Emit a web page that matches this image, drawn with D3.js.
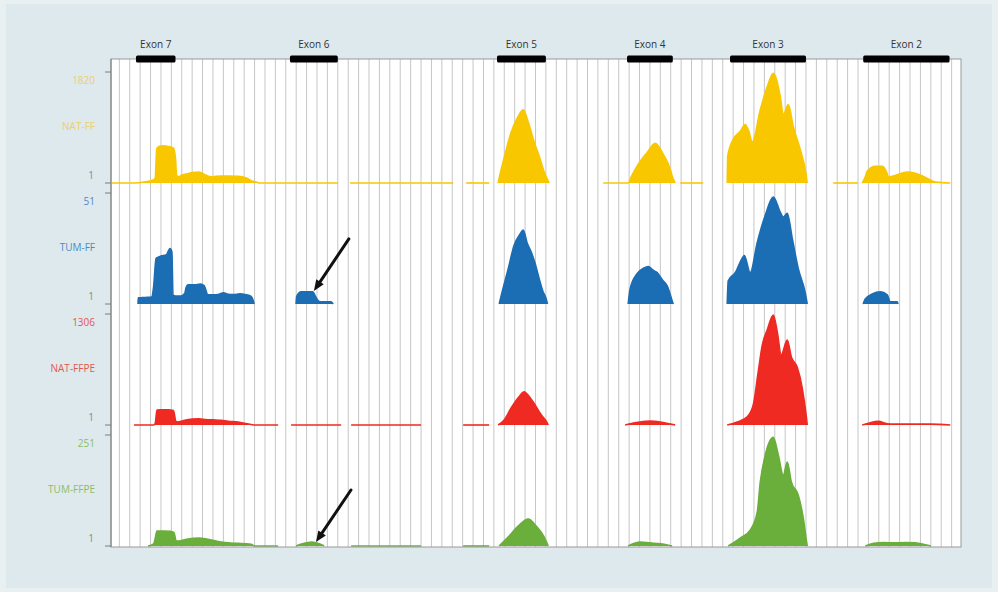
<!DOCTYPE html>
<html><head><meta charset="utf-8">
<script src="https://cdn.jsdelivr.net/npm/d3@7"></script>
<style>html,body{margin:0;padding:0;background:#e8f0f2;} svg{display:block;font-family:"Open Sans",sans-serif;}</style>
</head><body><svg id="c" width="998" height="592"></svg>
<script>
// ---------- data ----------
const exonNames  = ["Exon 7","Exon 6","Exon 5","Exon 4","Exon 3","Exon 2"];
const exonStarts = [160, 1640, 3630, 4880, 5870, 7150];
const exonEnds   = [540, 2100, 4100, 5320, 6600, 7980];
const trackNames = ["NAT-FF","TUM-FF","NAT-FFPE","TUM-FFPE"];
const trackMax   = [1820, 51, 1306, 251];
const trackMin   = [1, 1, 1, 1];
const gridPositions = d3.range(0, 8001, 100);

// coverage segments: [position, read count]
const natFF = [
  [[-70,0],[140,0],[250,20],[330,55],[345,80],[360,560],[380,600],[420,610],[470,600],[520,570],[540,400],[550,120],[575,100],[600,130],[650,150],[700,170],[766,180],[820,140],[882,100],[911,105],[978,115],[1045,115],[1140,110],[1220,80],[1280,30],[1334,5],[1340,0],[2103,0]],
  [[2218,0],[3209,0]],
  [[3334,0],[3555,0]],
  [[3641,0],[3651,80],[3700,420],[3766,830],[3830,1080],[3882,1200],[3930,1000],[3988,670],[4040,420],[4084,180],[4120,40],[4132,0]],
  [[4651,0],[4891,0],[4920,100],[4978,280],[5074,500],[5151,650],[5228,470],[5300,200],[5314,110],[5343,0]],
  [[5391,0],[5612,0]],
  [[5843,0],[5848,440],[5901,715],[5968,845],[6016,960],[6050,850],[6084,670],[6161,1200],[6228,1580],[6286,1800],[6353,1415],[6382,1120],[6430,1285],[6478,925],[6545,550],[6600,150],[6612,0]],
  [[6862,0],[7100,0]],
  [[7141,0],[7170,100],[7189,195],[7266,275],[7333,275],[7381,150],[7391,100],[7439,115],[7520,160],[7574,180],[7650,160],[7699,130],[7795,50],[7850,15],[7987,0]]
];
const tumFF = [
  [[180,0],[182,2.8],[250,3.0],[310,3.2],[330,8],[353,21],[400,22],[450,22.5],[487,25.5],[505,24],[516,4],[540,3.7],[593,3.7],[630,5],[641,7.5],[661,8.8],[720,8.8],[780,9.2],[814,8.5],[853,4.2],[900,4.2],[960,4.5],[1000,5.1],[1045,4.5],[1100,4.3],[1160,4.7],[1220,4.2],[1266,3.5],[1290,1],[1295,0]],
  [[1699,0],[1705,3.5],[1747,5.6],[1800,5.6],[1860,5.6],[1880,4],[1900,2.2],[1930,1],[2036,1],[2055,0]],
  [[3651,0],[3670,3.7],[3737,16],[3795,27],[3850,32],[3882,34],[3920,28],[3958,24],[4000,18],[4036,11.5],[4070,6],[4103,2.3],[4115,0]],
  [[4891,0],[4910,7],[4978,14],[5040,16.5],[5084,17.2],[5130,15.5],[5170,14.4],[5220,11],[5266,8.3],[5314,1.4],[5324,0]],
  [[5843,0],[5853,10.7],[5920,14.4],[5990,21.3],[6007,22.3],[6064,14.4],[6132,28.3],[6209,40.8],[6286,49.1],[6353,42.2],[6382,39.9],[6420,41.7],[6468,30.1],[6526,16.2],[6593,5.1],[6612,0]],
  [[7150,0],[7170,2.3],[7237,4.6],[7314,5.6],[7381,4.2],[7410,1],[7478,1],[7485,0]]
];
const natFFPE = [
  [[141,0],[330,0],[345,20],[362,175],[400,180],[470,180],[520,170],[545,40],[564,35],[593,45],[650,60],[700,70],[766,72],[830,65],[900,60],[978,55],[1045,45],[1141,35],[1200,20],[1266,5],[1300,0],[1526,0]],
  [[1651,0],[2132,0]],
  [[2228,0],[2901,0]],
  [[3305,0],[3555,0]],
  [[3641,0],[3699,60],[3766,200],[3834,320],[3892,390],[3930,350],[3978,270],[4055,120],[4110,30],[4122,0]],
  [[4862,0],[4910,15],[5000,35],[5103,47],[5200,35],[5300,10],[5343,0]],
  [[5843,0],[5939,35],[6035,95],[6093,235],[6141,625],[6180,940],[6228,1120],[6286,1295],[6324,1095],[6362,825],[6420,1000],[6459,800],[6516,680],[6564,435],[6605,80],[6612,0]],
  [[7141,0],[7200,20],[7295,45],[7380,15],[7450,12],[7600,12],[7800,10],[7987,0]]
];
const tumFFPE = [
  [[276,0],[330,5],[343,15],[362,34],[420,34],[490,33],[526,30],[545,12],[564,11],[593,12],[660,16],[766,18],[850,15],[978,9],[1045,7],[1141,6],[1266,4],[1300,0],[1526,0]],
  [[1699,0],[1760,5],[1850,9],[1920,5],[1968,0]],
  [[2228,0],[2901,0]],
  [[3305,0],[3555,0]],
  [[3651,0],[3737,20],[3834,45],[3930,61],[4007,45],[4084,20],[4122,0]],
  [[4891,0],[4950,6],[5007,9],[5100,7],[5200,5],[5314,0]],
  [[5853,0],[5968,18],[6064,36],[6132,77],[6161,145],[6209,206],[6286,246],[6334,206],[6382,160],[6420,190],[6459,145],[6526,115],[6574,63],[6605,11],[6612,0]],
  [[7170,0],[7250,6],[7350,8],[7450,7],[7550,8],[7650,7],[7750,3],[7800,0]]
];
const tracks = [natFF, tumFF, natFFPE, tumFFPE];
// arrows point at [track index, position, count]
const arrowTargets = [[1, 1870, 6], [3, 1890, 9]];

// ---------- styles ----------
const fills  = ["#f9c700","#1b6db4","#ee2a22","#6aae3b"];
const labelColors = ["#eccf6e","#4f89c4","#e4574c","#8dbd66"];

const svg = d3.select("#c");
const W = 998, H = 592;
const L = 111, R = 961, T = 59, B = 547;
const firstTop = 72, pitch = 121, trackH = 111;

svg.append("rect").attr("x",6).attr("y",4).attr("width",W-12).attr("height",H-8).attr("fill","#dde9ed");
svg.append("rect").attr("x",L).attr("y",T).attr("width",R-L).attr("height",B-T).attr("fill","#fff");

const x = d3.scaleLinear().domain([-80, 8090]).range([L, R]);

// grid
svg.append("g").selectAll("line").data(gridPositions).join("line")
  .attr("x1",d=>x(d)).attr("x2",d=>x(d)).attr("y1",T).attr("y2",B)
  .attr("stroke","#c6c6c6").attr("stroke-width",1);

const ys = tracks.map((t,i)=>{
  const top = firstTop + i*pitch;
  return d3.scaleLinear().domain([0, trackMax[i]]).range([top+trackH, top]);
});

tracks.forEach((segs,i)=>{
  const y = ys[i];
  const area = d3.area().curve(d3.curveMonotoneX).x(d=>x(d[0])).y0(y(0)).y1(d=>y(d[1]));
  const line = d3.line().curve(d3.curveMonotoneX).x(d=>x(d[0])).y(d=>y(d[1]));
  const g = svg.append("g");
  g.selectAll("path.a").data(segs).join("path").attr("class","a")
    .attr("d",area).attr("fill",fills[i]);
  g.selectAll("path.l").data(segs).join("path").attr("class","l")
    .attr("d",line).attr("fill","none").attr("stroke",fills[i]).attr("stroke-width",1.6);
});

// frame
svg.append("rect").attr("x",L).attr("y",T).attr("width",R-L).attr("height",B-T)
  .attr("fill","none").attr("stroke","#9a9a9a").attr("stroke-width",1);
svg.append("line").attr("x1",L).attr("x2",L).attr("y1",T).attr("y2",B).attr("stroke","#7d7d7d");

// left axes per track
tracks.forEach((t,i)=>{
  const y = ys[i];
  const g = svg.append("g");
  [trackMax[i], 0].forEach(v=>{
    g.append("line").attr("x1",L-6).attr("x2",L).attr("y1",y(v)).attr("y2",y(v)).attr("stroke","#7d7d7d");
  });
  g.append("text").attr("x",95).attr("y",y(trackMax[i])+9).attr("text-anchor","end")
    .attr("dominant-baseline","middle").attr("font-size",10).attr("fill",labelColors[i]).text(trackMax[i]);
  g.append("text").attr("x",95).attr("y",y(trackMax[i])+55).attr("text-anchor","end")
    .attr("dominant-baseline","middle").attr("font-size",10).attr("fill",labelColors[i]).text(trackNames[i]);
  g.append("text").attr("x",94).attr("y",y(0)-7).attr("text-anchor","end")
    .attr("dominant-baseline","middle").attr("font-size",10).attr("fill","#8a8a8a").text(trackMin[i]);
});

// exon bars
const eg = svg.append("g");
exonNames.forEach((n,i)=>{
  eg.append("rect").attr("x",x(exonStarts[i])).attr("y",T-3.5).attr("width",x(exonEnds[i])-x(exonStarts[i]))
    .attr("height",7).attr("rx",1.5).attr("fill","#000");
  eg.append("text").attr("x",(x(exonStarts[i])+x(exonEnds[i]))/2).attr("y",45)
    .attr("text-anchor","middle").attr("dominant-baseline","middle").attr("font-size",10)
    .attr("fill","#333").text(n);
});

// arrows
arrowTargets.forEach(([ti,pos,val])=>{
  const tx = x(pos), ty = ys[ti](val);
  const sx = tx+35, sy = ty-52;
  const ang = Math.atan2(ty-sy, tx-sx);
  const hl = 11, hw = 4.5;
  const bx = tx - hl*Math.cos(ang), by = ty - hl*Math.sin(ang);
  svg.append("line").attr("x1",sx).attr("y1",sy).attr("x2",bx).attr("y2",by)
    .attr("stroke","#111").attr("stroke-width",3).attr("stroke-linecap","round");
  const px = -Math.sin(ang), py = Math.cos(ang);
  svg.append("path").attr("d",`M${tx},${ty}L${bx+px*hw},${by+py*hw}L${bx-px*hw},${by-py*hw}Z`).attr("fill","#111");
});
</script></body></html>
